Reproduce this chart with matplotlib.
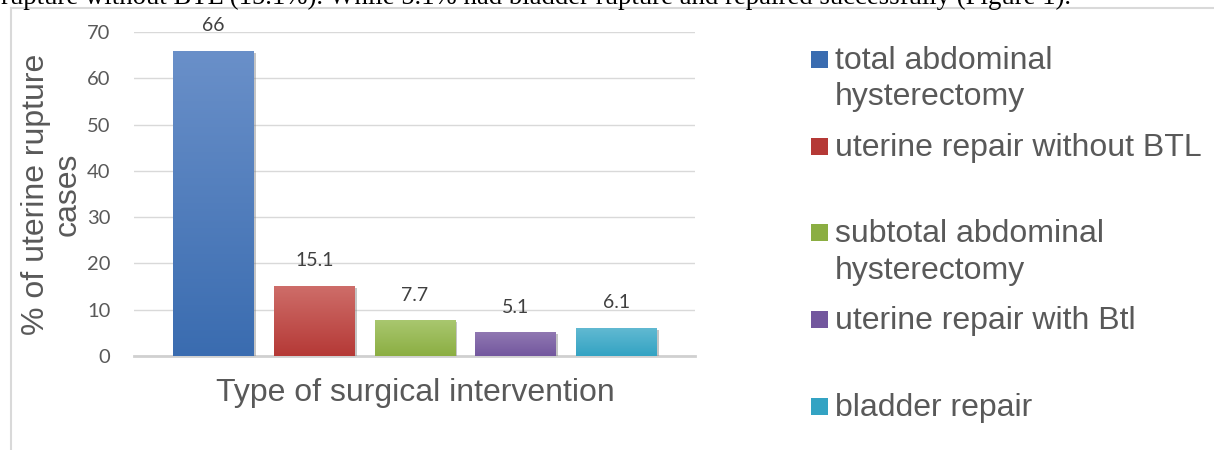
import numpy as np
import matplotlib
matplotlib.use("Agg")
import matplotlib.pyplot as plt
from matplotlib.colors import LinearSegmentedColormap
from matplotlib.patches import Rectangle
from matplotlib.lines import Line2D
import matplotlib.patheffects as pe

# data
categories = [
    "total abdominal\nhysterectomy",
    "uterine repair without BTL",
    "subtotal abdominal\nhysterectomy",
    "uterine repair with Btl",
    "bladder repair",
]
values = [66, 15.1, 7.7, 5.1, 6.1]
value_labels = ["66", "15.1", "7.7", "5.1", "6.1"]
yticks = [0, 10, 20, 30, 40, 50, 60, 70]

# colours: (top of gradient, bottom of gradient)
bar_colors = [
    ("#6A90C9", "#3A6CB0"),
    ("#CE6D69", "#B53936"),
    ("#A9C76F", "#8BAE42"),
    ("#9078B2", "#73579E"),
    ("#63BAD2", "#33A3C3"),
]

W, H = 1214, 450
fig = plt.figure(figsize=(W / 100, H / 100), dpi=100)
fig.patch.set_facecolor("white")

sans = ["Liberation Sans", "DejaVu Sans"]
nums = ["Lato", "DejaVu Sans"]
grey = "#595959"

# clipped line of page text above the chart
fig.text(1 / W, 1 - 4 / H,
         "rupture without BTL (15.1%). While 5.1% had bladder rupture and repaired successfully (Figure 1).",
         family=["Liberation Serif", "DejaVu Serif"], fontsize=19.3, color="black",
         ha="left", va="baseline")

# chart frame (left and top edges)
fig.add_artist(Line2D([11 / W, 1213 / W], [1 - 8 / H, 1 - 8 / H], color="#D9D9D9", lw=1.5))
fig.add_artist(Line2D([11 / W, 11 / W], [1 - 8 / H, 0], color="#D9D9D9", lw=1.5))

ax = fig.add_axes([134 / W, 1 - 356 / H, (695 - 134) / W, (356 - 32) / H])
x = np.arange(len(values))
bars = ax.bar(x, values, width=0.8, color=[c[1] for c in bar_colors], zorder=3)

for b, (top, bottom) in zip(bars, bar_colors):
    b.set_path_effects([pe.SimplePatchShadow(offset=(1.5, -1.5), shadow_rgbFace="#808080", alpha=0.45),
                        pe.Normal()])
    cmap = LinearSegmentedColormap.from_list("g", [bottom, top])
    grad = np.linspace(0, 1, 256).reshape(-1, 1)
    im = ax.imshow(grad, cmap=cmap, origin="lower", aspect="auto",
                   extent=(b.get_x(), b.get_x() + b.get_width(), 0, b.get_height()),
                   zorder=4)
    im.set_clip_path(b)

ax.bar_label(bars, labels=value_labels, padding=12, fontsize=14, color="#404040",
             family=nums, zorder=5)

ax.set_xlim(-0.79, 4.78)
ax.set_ylim(0, 70)
ax.set_yticks(yticks)
ax.set_xticks([])
ax.tick_params(axis="y", length=0, pad=17, labelsize=14.5, labelcolor=grey)
for lab in ax.get_yticklabels():
    lab.set_family(nums)
ax.yaxis.grid(True, color="#D9D9D9", lw=1, zorder=0)
for s in ["top", "right", "left"]:
    ax.spines[s].set_visible(False)
ax.spines["bottom"].set_color("#D0D0D0")
ax.spines["bottom"].set_linewidth(2)
ax.spines["bottom"].set_zorder(2)

# axis titles
fig.text(52 / W, 1 - 194 / H, "% of uterine rupture\ncases", rotation=90,
         ha="center", va="center", multialignment="center", linespacing=1.05,
         fontsize=23, color=grey, family=sans)
fig.text(415 / W, 1 - 393 / H, "Type of surgical intervention",
         ha="center", va="center", fontsize=23, color=grey, family=sans)

# legend, drawn by hand to keep Excel's slot spacing
for i, (lab, (top, bottom)) in enumerate(zip(categories, bar_colors)):
    cy = 59.5 + 86.75 * i
    sq = Rectangle((811 / W, 1 - (cy + 8.5) / H), 17 / W, 17 / H,
                   transform=fig.transFigure, facecolor=bottom, edgecolor="none")
    fig.add_artist(sq)
    for j, line in enumerate(lab.split("\n")):
        fig.text(835 / W, 1 - (cy + 9.5 + 36 * j) / H, line, ha="left", va="baseline",
                 fontsize=23, color=grey, family=sans)

fig.savefig("out.png", dpi=100, facecolor="white")
